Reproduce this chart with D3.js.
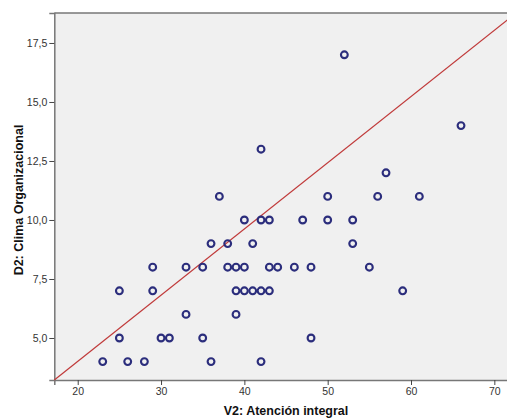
<!DOCTYPE html>
<html><head><meta charset="utf-8">
<script src="https://cdn.jsdelivr.net/npm/d3@7"></script>
<style>body{margin:0;background:#fff}svg{display:block}</style>
</head><body>
<script>
// Data: V2 (Atención integral) vs D2 (Clima Organizacional)
const xVals = [52,66,42,57,37,50,56,61,40,42,43,47,50,53,36,38,41,53,29,33,35,38,39,40,43,44,46,48,55,25,29,39,40,41,42,43,59,33,39,25,30,31,35,48,23,26,28,36,42];
const yVals = [17,14,13,12,11,11,11,11,10,10,10,10,10,10,9,9,9,9,8,8,8,8,8,8,8,8,8,8,8,7,7,7,7,7,7,7,7,6,6,5,5,5,5,5,4,4,4,4,4];
const xTicks = [20,30,40,50,60,70];
const yTicks = [5,7.5,10,12.5,15,17.5];
const xDomain = [17.19, 72.6];
const yDomain = [3.22, 18.77];
const refLineX = [17.19, 72.6];
const refLineY = [3.22, 18.77];

const W = 507, H = 418;
const m = {left:54.3, top:13, right:516, bottom:380};
const svg = d3.select("body").append("svg").attr("width",W).attr("height",H);
const x = d3.scaleLinear().domain(xDomain).range([m.left, m.right]);
const y = d3.scaleLinear().domain(yDomain).range([m.bottom, m.top]);

svg.append("rect").attr("x",m.left).attr("y",m.top).attr("width",m.right-m.left).attr("height",m.bottom-m.top).attr("fill","#f0f0f0");

const fmt = d => d3.format(".1f")(d).replace(".", ",");
const font = "Liberation Sans, Arial, sans-serif";

const xa = svg.append("g").attr("transform",`translate(0,${m.bottom})`)
  .call(d3.axisBottom(x).tickValues(xTicks).tickSize(5).tickPadding(3).tickFormat(d3.format("d")));
const ya = svg.append("g").attr("transform",`translate(${m.left},0)`)
  .call(d3.axisLeft(y).tickValues(yTicks).tickSize(5).tickPadding(2).tickFormat(fmt));
[xa,ya].forEach(g=>{
  g.selectAll("path").attr("stroke","#777").attr("stroke-width",1.5);
  g.selectAll("line").attr("stroke","#444");
  g.selectAll("text").attr("fill","#333").style("font-family",font).style("font-size","10.5px");
});
// top border
svg.append("line").attr("x1",m.left).attr("x2",m.right).attr("y1",m.top).attr("y2",m.top).attr("stroke","#777").attr("stroke-width",1.5);

// reference line
svg.append("line")
  .attr("x1",x(refLineX[0])).attr("y1",y(refLineY[0]))
  .attr("x2",x(refLineX[1])).attr("y2",y(refLineY[1]))
  .attr("stroke","#c03a3a").attr("stroke-width",1.2);

// points
svg.append("g").selectAll("circle").data(xVals.map((v,i)=>[v,yVals[i]])).join("circle")
  .attr("cx",d=>x(d[0])).attr("cy",d=>y(d[1])).attr("r",3.4)
  .attr("fill","none").attr("stroke","#2b2d7c").attr("stroke-width",2.1);

svg.append("text").attr("x",286).attr("y",415).attr("text-anchor","middle")
  .style("font-family",font).style("font-size","12.5px").style("font-weight","bold").attr("fill","#111")
  .text("V2: Atención integral");
svg.append("text").attr("transform","translate(23,200) rotate(-90)").attr("text-anchor","middle")
  .style("font-family",font).style("font-size","12.5px").style("font-weight","bold").attr("fill","#111")
  .text("D2: Clima Organizacional");
</script>
</body></html>
